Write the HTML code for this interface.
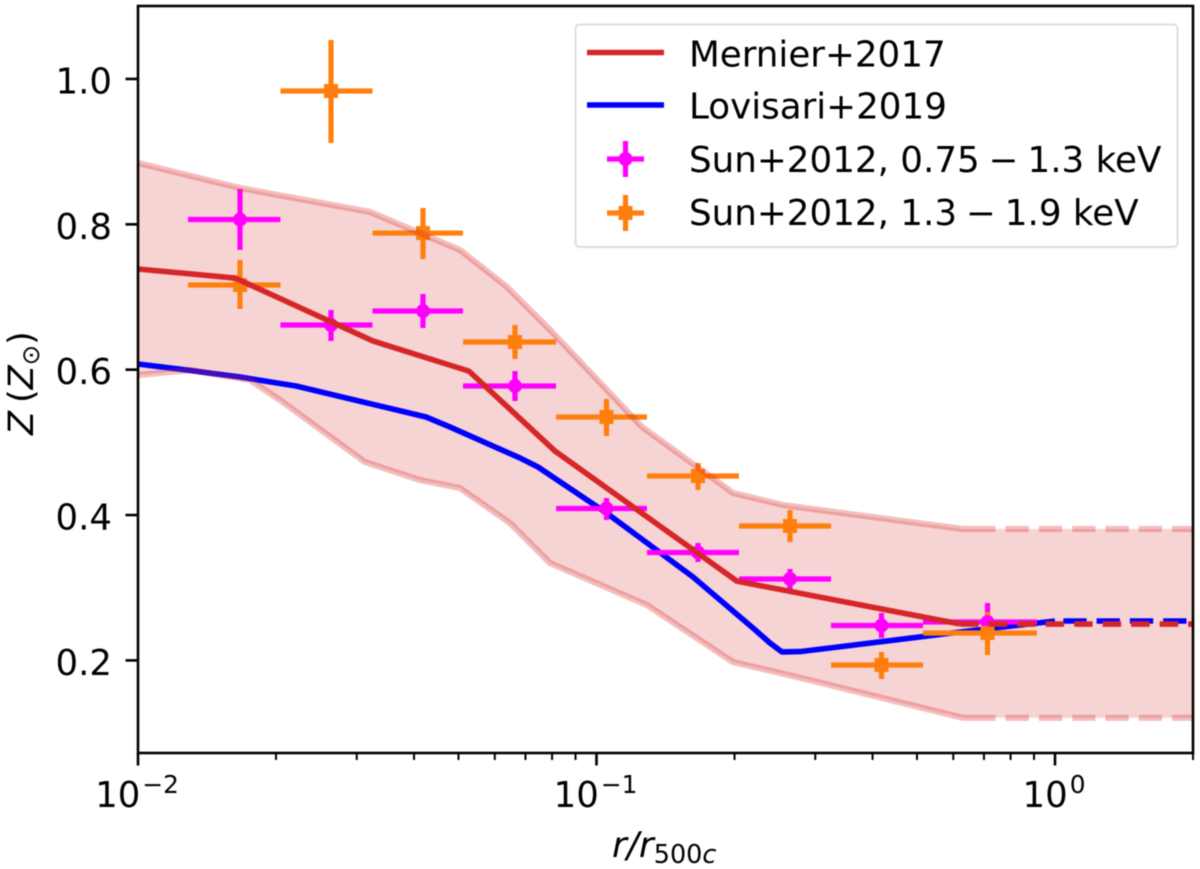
<!DOCTYPE html>
<html lang="en">
<head>
<meta charset="utf-8">
<title>Metallicity profile</title>
<style>
html,body{margin:0;padding:0;background:#fff;width:1200px;height:869px;overflow:hidden}
svg{display:block;filter:blur(.4px)}
text{font-family:"DejaVu Sans",sans-serif;fill:#000}
</style>
</head>
<body>
<svg id="chart" xmlns="http://www.w3.org/2000/svg" width="1200" height="869" viewBox="0 0 1200 869"></svg>
<script>
// ---- data ----
const xTickExponents = [-2, -1, 0];
const xMinorMultipliers = [2, 3, 4, 5, 6, 7, 8, 9];
const xMinorExponents = [-2, -1, 0];
const yTickValues = [0.2, 0.4, 0.6, 0.8, 1.0];
const yTickLabels = ['0.2', '0.4', '0.6', '0.8', '1.0'];

const mernierR = [0.01, 0.0163, 0.03254, 0.0527, 0.0812, 0.2025, 0.621];
const mernierZ = [0.7385, 0.726, 0.6395, 0.598, 0.488, 0.309, 0.25];
const mernierDashR = [0.621, 2];
const mernierDashZ = [0.25, 0.25];

const lovisariR = [0.01, 0.01279, 0.01669, 0.02211, 0.04248, 0.04792, 0.06811, 0.07454, 0.10515, 0.1624, 0.2194, 0.239, 0.2539, 0.2779, 0.621, 1];
const lovisariZ = [0.6078, 0.5995, 0.5899, 0.5775, 0.5349, 0.5211, 0.4785, 0.4661, 0.4028, 0.3148, 0.2446, 0.2239, 0.2116, 0.2121, 0.2391, 0.2542];
const lovisariDashR = [1, 2];
const lovisariDashZ = [0.2542, 0.2542];

const bandUpperR = [0.01, 0.01669, 0.03206, 0.05038, 0.06381, 0.0792, 0.12571, 0.19847, 0.2551, 0.3571, 0.6302, 0.66];
const bandUpperZ = [0.8844, 0.85, 0.817, 0.7647, 0.7138, 0.6546, 0.5211, 0.4303, 0.4138, 0.4014, 0.3808, 0.3808];
const bandLowerR = [0.01, 0.01298, 0.01754, 0.02041, 0.03126, 0.04121, 0.05038, 0.06478, 0.0792, 0.12886, 0.19847, 0.2779, 0.6302, 0.66];
const bandLowerZ = [0.5927, 0.5995, 0.5858, 0.5583, 0.473, 0.4482, 0.4372, 0.389, 0.334, 0.2762, 0.1978, 0.1761, 0.121, 0.121];
const bandDashR = [0.66, 2];
const bandDashUpperZ = [0.3808, 0.3808];
const bandDashLowerZ = [0.121, 0.121];

const sunR = [0.01669, 0.02636, 0.04184, 0.06642, 0.10515, 0.16648, 0.26425, 0.41838, 0.71251];
const sunRLo = [0.01285, 0.02045, 0.03247, 0.05115, 0.08162, 0.12886, 0.20452, 0.3247, 0.51535];
const sunRHi = [0.02045, 0.03247, 0.05115, 0.08162, 0.12886, 0.20452, 0.3247, 0.51535, 0.9136];

const sunLowZ = [0.8066, 0.6615, 0.6807, 0.5775, 0.409, 0.3485, 0.312, 0.248, 0.2528];
const sunLowZLo = [0.7647, 0.6395, 0.6574, 0.5569, 0.3932, 0.3354, 0.2982, 0.2308, 0.2336];
const sunLowZHi = [0.8486, 0.6821, 0.7041, 0.5982, 0.4234, 0.3615, 0.3258, 0.2652, 0.279];

const sunHighR = [0.01669, 0.02636, 0.04184, 0.06642, 0.10515, 0.16648, 0.26425, 0.41838, 0.71251];
const sunHighZ = [0.7165, 0.9834, 0.788, 0.6381, 0.5349, 0.4537, 0.3849, 0.1937, 0.2377];
const sunHighZLo = [0.6835, 0.9119, 0.7523, 0.6147, 0.5088, 0.4345, 0.3629, 0.1744, 0.2074];
const sunHighZHi = [0.7509, 1.0536, 0.8225, 0.6615, 0.5597, 0.4716, 0.4069, 0.2116, 0.2666];

const legendLabels = ['Mernier+2017', 'Lovisari+2019', 'Sun+2012, 0.75\u2005\u2212\u20051.3 keV', 'Sun+2012, 1.3\u2005\u2212\u20051.9 keV'];

// ---- axis functions ----
const PLOT = {left: 138, right: 1193, top: 6, bottom: 753};
const PER_DECADE = 458.5;
function xScale(r) { return PLOT.left + (Math.log10(r) + 2) * PER_DECADE; }
function yScale(z) { return 660.4 - (z - 0.2) * 726.8; }

const NS = 'http://www.w3.org/2000/svg';
const svg = document.getElementById('chart');
function make(tag, attrs, parent) {
  const el = document.createElementNS(NS, tag);
  for (const k in attrs) el.setAttribute(k, attrs[k]);
  (parent || svg).appendChild(el);
  return el;
}
function pathFrom(rs, zs) {
  return rs.map((r, i) => (i ? 'L' : 'M') + xScale(r).toFixed(2) + ' ' + yScale(zs[i]).toFixed(2)).join(' ');
}
function group(name) {
  const g = make('g', {});
  
  
  return g;
}

const RED = '#d62728', BLUE = '#0000ff', MAG = '#ff00ff', ORG = '#ff7f0e';
const LW = 5.6;

// ---- scatter band fill ----
const gBand = group('scatter-band');
const fillRs = bandUpperR.concat(bandDashR, bandDashR.slice().reverse(), bandLowerR.slice().reverse());
const fillZs = bandUpperZ.concat(bandDashUpperZ, bandDashLowerZ.slice().reverse(), bandLowerZ.slice().reverse());
const bandFill = make('path', {d: pathFrom(fillRs, fillZs) + ' Z', fill: RED, 'fill-opacity': 0.2, stroke: 'none'}, gBand);



// ---- Lovisari line ----
const gLov = group('lovisari-series');
const lovLine = make('path', {d: pathFrom(lovisariR, lovisariZ), fill: 'none', stroke: BLUE, 'stroke-width': LW, 'stroke-linejoin': 'round'}, gLov);


const lovDash = make('path', {d: pathFrom(lovisariDashR, lovisariDashZ), fill: 'none', stroke: BLUE, 'stroke-width': LW, 'stroke-dasharray': '23.3 10', 'stroke-dashoffset': 25}, gLov);



// ---- error bars ----
function errorBars(name, color, zs, zLo, zHi) {
  const g = group(name);
  sunR.forEach((r, i) => {
    const h = make('line', {x1: xScale(sunRLo[i]), x2: xScale(sunRHi[i]), y1: yScale(zs[i]), y2: yScale(zs[i]), stroke: color, 'stroke-width': 5.2}, g);
    
    
    const v = make('line', {x1: xScale(r), x2: xScale(r), y1: yScale(zLo[i]), y2: yScale(zHi[i]), stroke: color, 'stroke-width': 5.2}, g);
    
    
  });
}
errorBars('sun-low-temp-error-bars', MAG, sunLowZ, sunLowZLo, sunLowZHi);
errorBars('sun-high-temp-error-bars', ORG, sunHighZ, sunHighZLo, sunHighZHi);

// ---- markers ----
const gMag = group('sun-low-temp-points');
sunR.forEach((r, i) => {
  const c = make('circle', {cx: xScale(r), cy: yScale(sunLowZ[i]), r: 7, fill: MAG}, gMag);
  
  
});
const gOrg = group('sun-high-temp-points');
sunHighR.forEach((r, i) => {
  const s = make('rect', {x: xScale(r) - 7, y: yScale(sunHighZ[i]) - 7, width: 14, height: 14, fill: ORG}, gOrg);
  
  
});

// ---- Mernier line ----
const gMer = group('mernier-series');
const merLine = make('path', {d: pathFrom(mernierR, mernierZ), fill: 'none', stroke: RED, 'stroke-width': LW, 'stroke-linejoin': 'round'}, gMer);


const merDash = make('path', {d: pathFrom(mernierDashR, mernierDashZ), fill: 'none', stroke: RED, 'stroke-width': LW, 'stroke-dasharray': '18.5 10', 'stroke-dashoffset': 0}, gMer);



// ---- band outlines ----
const outlineAttrs = {fill: 'none', stroke: RED, 'stroke-opacity': 0.3, 'stroke-width': 6.2, 'stroke-linejoin': 'round'};
const bu = make('path', Object.assign({d: pathFrom(bandUpperR, bandUpperZ)}, outlineAttrs), gBand);


const bl = make('path', Object.assign({d: pathFrom(bandLowerR, bandLowerZ)}, outlineAttrs), gBand);


svg.appendChild(gBand.removeChild(bu));
svg.appendChild(gBand.removeChild(bl));
const bud = make('path', Object.assign({d: pathFrom(bandDashR, bandDashUpperZ), 'stroke-dasharray': '23.3 10'}, outlineAttrs));


const bld = make('path', Object.assign({d: pathFrom(bandDashR, bandDashLowerZ), 'stroke-dasharray': '23.3 10'}, outlineAttrs));



// ---- axes: ticks and labels ----
const gX = group('x-axis');
xMinorExponents.forEach(e => {
  xMinorMultipliers.forEach(m => {
    const r = m * Math.pow(10, e);
    if (r > 2) return;
    const t = make('line', {x1: xScale(r), x2: xScale(r), y1: PLOT.bottom, y2: PLOT.bottom + 7, stroke: '#000', 'stroke-width': 2}, gX);
    
    
  });
});
xTickExponents.forEach(e => {
  const x = xScale(Math.pow(10, e));
  const t = make('line', {x1: x, x2: x, y1: PLOT.bottom, y2: PLOT.bottom + 12.5, stroke: '#000', 'stroke-width': 2.6}, gX);
  
  
  const lab = make('text', {x: x - 1, y: 807, 'text-anchor': 'middle', 'font-size': 35.5}, gX);
  
  
  const base = make('tspan', {}, lab);
  base.textContent = '10';
  const sup = make('tspan', {dy: -14, dx: 2, 'font-size': 24.8}, lab);
  sup.textContent = e < 0 ? '\u2212' + Math.abs(e) : String(e);
});

const gY = group('y-axis');
yTickValues.forEach((v, i) => {
  const y = yScale(v);
  const t = make('line', {x1: PLOT.left - 12.5, x2: PLOT.left, y1: y, y2: y, stroke: '#000', 'stroke-width': 2.6}, gY);
  
  
  const lab = make('text', {x: 112, y: y + 14.5, 'text-anchor': 'end', 'font-size': 35.5}, gY);
  
  
  lab.textContent = yTickLabels[i];
});

const frame = make('rect', {x: PLOT.left, y: PLOT.top, width: PLOT.right - PLOT.left, height: PLOT.bottom - PLOT.top, fill: 'none', stroke: '#000', 'stroke-width': 2.6});



// ---- axis titles ----
const xTitle = make('text', {x: 612, y: 857, 'font-size': 36});


make('tspan', {'font-style': 'italic'}, xTitle).textContent = 'r/r';
make('tspan', {dy: 6, 'font-size': 25.5}, xTitle).textContent = '500';
make('tspan', {'font-size': 25.5, 'font-style': 'italic'}, xTitle).textContent = 'c';

const yTitle = make('text', {transform: 'translate(33 435) rotate(-90)', x: 0, y: 0, 'font-size': 35});


make('tspan', {'font-style': 'italic'}, yTitle).textContent = 'Z';
make('tspan', {dx: 8}, yTitle).textContent = '(';
make('tspan', {'font-style': 'italic'}, yTitle).textContent = 'Z';
make('tspan', {dy: 6, 'font-size': 24.5}, yTitle).textContent = '\u2299';
make('tspan', {dy: -6}, yTitle).textContent = ')';

// ---- legend ----
const gLeg = group('legend');
const legBox = make('rect', {x: 575.5, y: 24.5, width: 602, height: 222.5, rx: 4, fill: '#fff', 'fill-opacity': 0.8, stroke: '#dedede', 'stroke-width': 2}, gLeg);


const legY = [52.5, 105, 159, 213];
const legBase = [66.5, 118.5, 172, 225];
legendLabels.forEach((txt, i) => {
  const t = make('text', {x: 689, y: legBase[i], 'font-size': 35.7}, gLeg);
  
  
  t.textContent = txt;
});
const legRed = make('line', {x1: 587, x2: 664, y1: legY[0], y2: legY[0], stroke: RED, 'stroke-width': LW}, gLeg);


const legBlue = make('line', {x1: 587, x2: 664, y1: legY[1], y2: legY[1], stroke: BLUE, 'stroke-width': LW}, gLeg);


const legMag = make('g', {}, gLeg);


make('line', {x1: 607, x2: 644, y1: legY[2], y2: legY[2], stroke: MAG, 'stroke-width': 5.2}, legMag);
make('line', {x1: 625.5, x2: 625.5, y1: legY[2] - 18, y2: legY[2] + 18, stroke: MAG, 'stroke-width': 5.2}, legMag);
make('circle', {cx: 625.5, cy: legY[2], r: 7, fill: MAG}, legMag);
const legOrg = make('g', {}, gLeg);


make('line', {x1: 607, x2: 644, y1: legY[3], y2: legY[3], stroke: ORG, 'stroke-width': 5.2}, legOrg);
make('line', {x1: 625.5, x2: 625.5, y1: legY[3] - 18, y2: legY[3] + 18, stroke: ORG, 'stroke-width': 5.2}, legOrg);
make('rect', {x: 618.5, y: legY[3] - 7, width: 14, height: 14, fill: ORG}, legOrg);
</script>
</body>
</html>
